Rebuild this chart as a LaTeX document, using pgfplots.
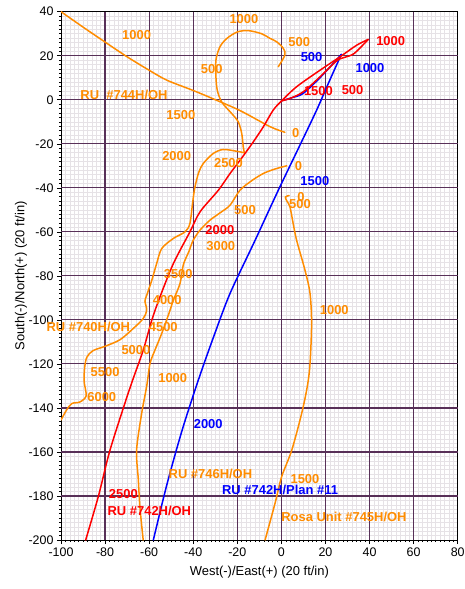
\documentclass[border=0pt]{standalone}
\usepackage{fontspec}
\setmainfont{Liberation Sans}
\usepackage{pgfplots}
\pgfplotsset{compat=1.18}
\definecolor{majorc}{RGB}{88,48,88}
\definecolor{minorc}{RGB}{230,226,230}
\definecolor{orng}{RGB}{255,140,0}
\definecolor{rd}{RGB}{255,0,0}
\definecolor{bl}{RGB}{0,0,255}
\newcommand{\lbl}{\bfseries\fontsize{13}{15}\selectfont}
\begin{document}
\begin{tikzpicture}
\begin{axis}[
  at={(0,0)}, anchor=south west,
  scale only axis, width=396.7bp, height=528.3bp,
  xmin=-100, xmax=80, ymin=-200, ymax=40,
  xtick={-100,-80,...,80}, ytick={-200,-180,...,40},
  minor tick num=9,
  grid=minor,
  minor grid style={draw=minorc, line width=0.45bp},
  extra x ticks={-80,-60,...,60},
  extra y ticks={-180,-160,...,20},
  extra x tick labels={}, extra y tick labels={},
  extra tick style={grid=major, major grid style={draw=majorc, line width=1.2bp}, major tick length=0pt},
  tick pos=left, tick align=outside,
  major tick length=4bp, minor tick length=2bp,
  every tick/.style={black, line width=0.5bp},
  axis line style={black, line width=0.8bp},
  /pgf/number format/assume math mode=true,
  tick label style={font=\fontsize{12.5}{14}\selectfont},
  xlabel={West(-)/East(+) (20 ft/in)},
  ylabel={South(-)/North(+) (20 ft/in)},
  every axis x label/.style={at={(axis description cs:0.5,-0.06)}, anchor=center, font=\fontsize{13}{15}\selectfont},
  every axis y label/.style={at={(axis description cs:-0.1008,0.5)}, anchor=center, rotate=90, font=\fontsize{13}{15}\selectfont},
  clip mode=individual,
  every axis plot/.append style={line width=1.5bp, line join=round, line cap=round},
]
% ---- Orange wells ----
% RU #744H/OH
\addplot[orng, smooth, tension=0.5] coordinates {
(-100,40) (-90,33) (-80,26.2) (-70,19.5) (-60,13.4) (-52,8.9) (-40,4.2) (-30.9,0.4) (-18.8,-4.9) (-5.2,-12.2) (1.6,-14.8)};
% RU #740H/OH
\addplot[orng, smooth, tension=0.5] coordinates {
(-1.4,15) (1.6,20.3) (0.9,23.3) (-2.1,26.3) (-5.2,27.9) (-9,30) (-15,31.4) (-20,30.8) (-24.8,27.8) (-27.9,24) (-29.7,18) (-29.7,10.4) (-29.1,4.4) (-27.1,-1) (-22.6,-6.2) (-19.6,-10) (-18,-15.3) (-17.3,-21.4) (-16.8,-24.1)};
\addplot[orng, smooth, tension=0.5] coordinates {
(-16.8,-24.1) (-20.3,-23.4) (-26.4,-22.6) (-30.9,-24.4) (-35.4,-28.9) (-37.5,-33) (-39.3,-40) (-40.3,-47) (-41.5,-56.2) (-43.7,-60) (-49,-63) (-54.3,-67.6) (-56.6,-74.4) (-58.8,-82) (-61.1,-88.8) (-61.9,-91.5) (-61.1,-95.6) (-62.7,-99.4) (-67.2,-103.9) (-73.2,-109) (-80,-112) (-85.5,-114) (-88.3,-117) (-89.3,-122) (-89.5,-128) (-88.6,-134.5) (-91.4,-137.3) (-95.1,-138) (-97.5,-141) (-100,-145.5)};
% RU #746H/OH
\addplot[orng, smooth, tension=0.5] coordinates {
(2.4,-30) (-3,-31.5) (-8.2,-33.5) (-13.5,-36.8) (-18.8,-41.1) (-23.3,-47.9) (-28,-51.5) (-32.4,-54.7) (-36.9,-59.2) (-40,-63.8) (-42,-69) (-44.5,-75) (-46,-83.5) (-49,-91) (-51,-97) (-54.3,-106.2) (-57.4,-113.8) (-59.6,-119.8) (-61.1,-130) (-63.4,-142.5) (-65.7,-159.2) (-64.9,-172.8) (-64.2,-185) (-62.7,-200)};
% Rosa Unit #745H/OH
\addplot[orng, smooth, tension=0.5] coordinates {
(3.5,-43.5) (1.8,-44.2) (2.5,-46) (3.9,-48.7) (5.3,-56) (6.9,-63.8) (10.7,-77.4) (13,-88) (13.7,-101.6) (13,-119.8) (11.8,-130) (9.2,-142.5) (4.7,-159.2) (0.1,-171.3) (-2.9,-183.4) (-7.4,-200)};
% ---- Blue plan ----
\addplot[bl, smooth, tension=0.5] coordinates {
(0,-0.5) (5,1) (9.9,2.9) (18,10.5) (27.2,20.6)};
\addplot[bl, smooth, tension=0.5] coordinates {
(27.2,20.6) (22,9) (16,-4.7) (8,-21.5) (-1.4,-41.1) (-12,-64) (-23.3,-88) (-30.5,-107) (-37.7,-127.4) (-45,-150) (-52,-175) (-58.1,-200)};
% ---- Red RU #742H/OH ----
\addplot[rd, smooth, tension=0.5] coordinates {
(0.1,-0.5) (3.9,0.6) (9.9,3.6) (17.5,10.4) (25,17.6) (28.5,19.2) (33,21) (39.4,27.4)};
\addplot[rd, smooth, tension=0.5] coordinates {
(39.4,27.4) (34.2,24.8) (26.6,19.5) (17.5,13.4) (6.9,5.9) (0.1,-0.5) (-3.7,-4.7) (-8.2,-12.3) (-13,-19.5) (-18.7,-27.4) (-23.3,-33.5) (-28.6,-41.1) (-36.9,-50.9) (-41.5,-60) (-49,-74.4) (-55.1,-89.6) (-58.8,-100.1) (-62.7,-113.8) (-67.5,-127.4) (-71.7,-140) (-78,-160) (-83,-180) (-88.8,-200)};
% ---- Labels ----
\begin{scope}[every node/.style={font=\lbl, text=orng, inner sep=0pt}]
\node at (axis cs:-65.7,29.4) {1000};
\node at (axis cs:-17,36.6) {1000};
\node at (axis cs:8.1,26.3) {500};
\node at (axis cs:-31.6,13.8) {500};
\node at (axis cs:-71.4,2.1) {RU\ \ \#744H/OH};
\node at (axis cs:-45.6,-7) {1500};
\node at (axis cs:6.5,-14.9) {0};
\node at (axis cs:-47.5,-25.6) {2000};
\node at (axis cs:-24,-28.6) {2500};
\node at (axis cs:7.7,-30) {0};
\node at (axis cs:-16.5,-50.2) {500};
\node at (axis cs:8.9,-44.1) {0};
\node at (axis cs:8.4,-47.5) {500};
\node at (axis cs:-27.5,-66.5) {3000};
\node at (axis cs:-46.8,-79.2) {3500};
\node at (axis cs:-51.8,-91) {4000};
\node at (axis cs:-87.6,-103.2) {RU \#740H/OH};
\node at (axis cs:-53.6,-103.2) {4500};
\node at (axis cs:-66,-113.8) {5000};
\node at (axis cs:-80,-123.9) {5500};
\node at (axis cs:-81.5,-135) {6000};
\node at (axis cs:-49.3,-126.2) {1000};
\node at (axis cs:24,-95.6) {1000};
\node at (axis cs:-32.2,-170.2) {RU \#746H/OH};
\node at (axis cs:10.7,-172.5) {1500};
\node at (axis cs:28.4,-189.5) {Rosa Unit \#745H/OH};
\end{scope}
\begin{scope}[every node/.style={font=\lbl, text=rd, inner sep=0pt}]
\node at (axis cs:49.6,26.6) {1000};
\node at (axis cs:16.8,3.9) {1500};
\node at (axis cs:32.3,4.4) {500};
\node at (axis cs:-27.9,-59.2) {2000};
\node at (axis cs:-71.7,-178.9) {2500};
\node at (axis cs:-59.9,-186.9) {RU \#742H/OH};
\end{scope}
\begin{scope}[every node/.style={font=\lbl, text=bl, inner sep=0pt}]
\node at (axis cs:13.7,19.2) {500};
\node at (axis cs:40.2,14.2) {1000};
\node at (axis cs:15.2,-37) {1500};
\node at (axis cs:-33.2,-147.1) {2000};
\node at (axis cs:-0.6,-177.4) {RU \#742H/Plan \#11};
\end{scope}
\end{axis}
\pgfresetboundingbox
\path (-61bp,-49bp) rectangle (404bp,540bp);
\end{tikzpicture}
\end{document}
